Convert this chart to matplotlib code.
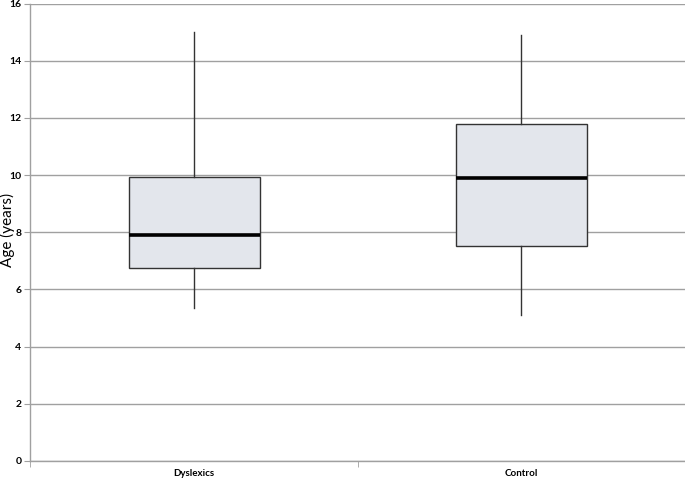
import matplotlib
matplotlib.use("Agg")
import matplotlib.pyplot as plt
from matplotlib.ticker import FixedLocator

categories = ["Dyslexics", "Control"]
whisker_low = [5.35, 5.10]
q1 = [6.75, 7.52]
median = [7.92, 9.88]
q3 = [9.92, 11.79]
whisker_high = [15.0, 14.9]
yticks = [0, 2, 4, 6, 8, 10, 12, 14, 16]

fig = plt.figure(figsize=(6.85, 4.8), dpi=100)
ax = fig.add_axes([0.0445, 0.0396, 0.9555, 0.9531])

stats = []
for i, c in enumerate(categories):
    stats.append(dict(label=c, whislo=whisker_low[i], q1=q1[i], med=median[i],
                      q3=q3[i], whishi=whisker_high[i]))

ax.bxp(stats, positions=[1, 2], widths=0.4, showfliers=False, showcaps=False,
       patch_artist=True,
       boxprops=dict(facecolor="#e3e6ec", edgecolor="#333333", linewidth=1.0),
       whiskerprops=dict(color="#333333", linewidth=1.0),
       medianprops=dict(color="#000000", linewidth=2.6, solid_capstyle="butt"),
       zorder=3)

ax.set_xlim(0.5, 2.5)
ax.set_ylim(0, 16)
ax.set_yticks(yticks)
ax.yaxis.grid(True, color="#a0a0a0", linewidth=1.0, zorder=0)
ax.set_axisbelow(True)

for s in ["top", "right"]:
    ax.spines[s].set_visible(False)
for s in ["left", "bottom"]:
    ax.spines[s].set_color("#a0a0a0")
    ax.spines[s].set_linewidth(1.0)

ax.set_xticks([1, 2])
ax.set_xticklabels(categories, fontsize=7, fontfamily="Lato", fontweight="bold")
ax.xaxis.set_minor_locator(FixedLocator([0.5, 1.5, 2.5]))
ax.tick_params(axis="x", which="major", length=0, pad=6)
ax.tick_params(axis="x", which="minor", length=4, color="#a0a0a0", direction="out")
ax.tick_params(axis="y", length=4, color="#a0a0a0", direction="out", pad=2.5)
for lbl in ax.get_yticklabels():
    lbl.set_fontfamily("Lato")
    lbl.set_fontweight("bold")
    lbl.set_fontsize(7.5)

fig.text(7 / 685, 1 - 230 / 480, "Age (years)", rotation=90, ha="center", va="center",
         fontsize=11, fontfamily="Lato")

fig.savefig("out.png", dpi=100)
